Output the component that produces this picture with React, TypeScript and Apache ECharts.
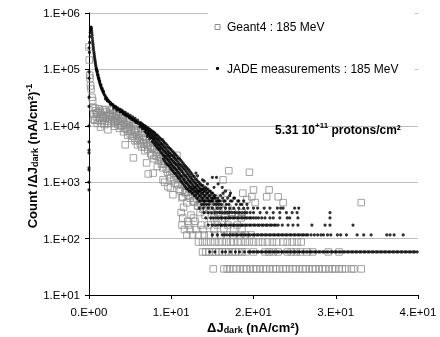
import React, { useEffect, useRef } from "react";
import * as echarts from "echarts";

const FONT = "'Liberation Sans', Arial, Helvetica, sans-serif";

const xTickLabels = ["0.E+00", "1.E+01", "2.E+01", "3.E+01", "4.E+01"];
const yTickLabels = ["1.E+01", "1.E+02", "1.E+03", "1.E+04", "1.E+05", "1.E+06"];

const seriesNames = ["Geant4 : 185 MeV", "JADE measurements : 185 MeV"];
const fluenceNote = "5.31 10+11 protons/cm²";

// ---------- JADE measurements (black dots) ----------
const jadeAxisColumn = [2.4e5, 9.0e4, 7.0e4, 3.2e4, 2.2e4, 1.0e4, 5.2e3, 3.7e3, 3.3e3, 1.8e3, 1.65e3, 1.0e3, 7.3e2];

const jadeCurve: number[][] = [
  [0.05, 2.0e5], [0.08, 3.0e5], [0.11, 3.8e5], [0.14, 4.5e5], [0.17, 5.0e5], [0.2, 5.4e5], [0.23, 5.6e5],
  [0.26, 5.5e5], [0.29, 5.2e5], [0.32, 4.8e5], [0.35, 4.4e5], [0.38, 4.0e5], [0.41, 3.6e5], [0.44, 3.25e5],
  [0.47, 2.95e5], [0.5, 2.7e5], [0.53, 2.45e5], [0.56, 2.25e5], [0.59, 2.05e5], [0.62, 1.9e5], [0.65, 1.75e5],
  [0.68, 1.62e5], [0.71, 1.5e5], [0.74, 1.4e5], [0.77, 1.3e5], [0.8, 1.22e5], [0.84, 1.13e5], [0.88, 1.05e5],
  [0.92, 9.8e4], [0.96, 9.2e4], [1.0, 8.6e4], [1.05, 8.0e4], [1.1, 7.5e4], [1.15, 7.0e4], [1.2, 6.6e4],
  [1.25, 6.2e4], [1.3, 5.8e4], [1.36, 5.45e4], [1.42, 5.1e4], [1.48, 4.8e4], [1.55, 4.5e4], [1.62, 4.25e4],
  [1.7, 4.0e4], [1.78, 3.78e4], [1.86, 3.58e4], [1.95, 3.4e4], [2.05, 3.22e4], [2.15, 3.06e4], [2.25, 2.92e4],
  [2.35, 2.8e4], [2.45, 2.69e4], [2.55, 2.59e4], [2.7, 2.46e4], [2.85, 2.35e4], [3.0, 2.25e4], [3.15, 2.16e4],
  [3.3, 2.08e4], [3.45, 2.0e4], [3.6, 1.93e4], [3.75, 1.87e4], [3.9, 1.81e4], [4.05, 1.75e4], [4.2, 1.69e4],
  [4.35, 1.63e4], [4.5, 1.58e4], [4.65, 1.53e4], [4.8, 1.48e4], [4.95, 1.43e4], [5.1, 1.38e4], [5.25, 1.33e4],
  [5.4, 1.29e4], [5.55, 1.24e4], [5.7, 1.2e4], [5.85, 1.15e4], [6.0, 1.1e4],
];

const jadeCurveEdge: number[][] = [
  [0.9, 1.0e5], [1.0, 9.3e4], [1.1, 8.0e4], [1.2, 7.0e4], [1.3, 6.2e4], [1.45, 5.3e4], [1.6, 4.6e4], [1.75, 4.1e4],
  [2.0, 3.0e4], [2.3, 2.75e4], [2.6, 2.55e4], [2.9, 2.38e4], [3.2, 2.22e4], [3.5, 2.07e4], [3.8, 1.95e4],
  [4.1, 1.84e4], [4.4, 1.73e4], [4.7, 1.62e4], [5.0, 1.53e4], [5.3, 1.44e4], [5.6, 1.35e4], [5.9, 1.26e4],
  [2.2, 2.8e4], [2.6, 2.4e4], [3.0, 2.05e4], [3.4, 1.9e4], [3.8, 1.77e4], [4.2, 1.62e4], [4.6, 1.5e4],
  [5.0, 1.39e4], [5.4, 1.27e4], [5.8, 1.16e4], [4.4, 1.56e4], [4.9, 1.4e4], [5.2, 1.3e4], [5.7, 1.14e4],
];

const jadeBand: number[][] = [
  [6.2, 1.05e4], [6.2, 9.6e3], [6.2, 1.15e4],
  [6.5, 9.7e3], [6.5, 8.8e3], [6.5, 1.07e4],
  [6.8, 9.0e3], [6.8, 8.0e3], [6.8, 1.0e4],
  [7.1, 8.3e3], [7.1, 7.3e3], [7.1, 9.3e3], [7.1, 6.5e3],
  [7.4, 7.6e3], [7.4, 6.7e3], [7.4, 8.6e3], [7.4, 5.9e3],
  [7.7, 7.0e3], [7.7, 6.1e3], [7.7, 8.0e3], [7.7, 5.3e3],
  [8.0, 6.4e3], [8.0, 5.5e3], [8.0, 7.4e3], [8.0, 4.7e3],
  [8.3, 5.8e3], [8.3, 4.9e3], [8.3, 6.8e3], [8.3, 4.1e3],
  [8.6, 5.2e3], [8.6, 4.4e3], [8.6, 6.1e3], [8.6, 3.7e3],
  [8.9, 4.7e3], [8.9, 3.9e3], [8.9, 5.6e3], [8.9, 3.2e3],
  [9.2, 4.2e3], [9.2, 3.5e3], [9.2, 5.0e3], [9.2, 2.9e3], [9.2, 2.4e3],
  [9.5, 3.7e3], [9.5, 3.1e3], [9.5, 4.5e3], [9.5, 2.6e3], [9.5, 2.1e3],
  [9.8, 3.3e3], [9.8, 2.8e3], [9.8, 4.0e3], [9.8, 2.3e3], [9.8, 1.9e3],
  [10.1, 3.0e3], [10.1, 2.5e3], [10.1, 3.6e3], [10.1, 2.0e3], [10.1, 1.65e3],
  [10.4, 2.7e3], [10.4, 2.2e3], [10.4, 3.2e3], [10.4, 1.8e3], [10.4, 1.45e3],
  [10.7, 2.4e3], [10.7, 2.0e3], [10.7, 2.9e3], [10.7, 1.6e3], [10.7, 1.3e3],
  [11.0, 2.1e3], [11.0, 1.75e3], [11.0, 2.6e3], [11.0, 1.4e3], [11.0, 1.15e3],
  [11.3, 1.9e3], [11.3, 1.55e3], [11.3, 2.3e3], [11.3, 1.25e3], [11.3, 1.0e3],
  [11.6, 1.7e3], [11.6, 1.35e3], [11.6, 2.0e3], [11.6, 1.1e3], [11.6, 8.7e2],
  [11.9, 1.5e3], [11.9, 1.2e3], [11.9, 1.8e3], [11.9, 9.6e2], [11.9, 7.54e2],
  [12.2, 1.3e3], [12.2, 1.05e3], [12.2, 1.6e3], [12.2, 8.4e2], [12.2, 6.96e2],
  [12.5, 1.15e3], [12.5, 9.3e2], [12.5, 1.4e3], [12.5, 7.54e2], [12.5, 6.38e2],
  [12.8, 1.0e3], [12.8, 8.1e2], [12.8, 1.25e3], [12.8, 6.96e2], [12.8, 5.8e2],
  [13.1, 9.0e2], [13.1, 7.54e2], [13.1, 1.1e3], [13.1, 6.38e2], [13.1, 5.22e2],
  [13.4, 8.1e2], [13.4, 6.96e2], [13.4, 9.8e2], [13.4, 5.8e2], [13.4, 4.64e2],
  [13.7, 7.54e2], [13.7, 6.38e2], [13.7, 8.7e2], [13.7, 5.22e2], [13.7, 4.06e2],
  [14.0, 6.96e2], [14.0, 5.8e2], [14.0, 7.8e2], [14.0, 4.64e2], [14.0, 4.06e2],
  [14.3, 6.38e2], [14.3, 5.22e2], [14.3, 7.54e2], [14.3, 4.06e2],
  [14.6, 5.8e2], [14.6, 4.64e2], [14.6, 6.96e2], [14.6, 4.06e2],
  [14.9, 5.22e2], [14.9, 4.64e2], [14.9, 6.38e2],
  [15.2, 5.22e2], [15.2, 4.06e2], [15.2, 5.8e2],
  [15.5, 4.64e2], [15.5, 4.06e2], [15.8, 4.64e2], [15.8, 4.06e2],
  [16.1, 4.06e2], [16.4, 4.64e2], [16.7, 4.06e2], [17.0, 4.06e2], [17.4, 4.64e2], [17.9, 4.06e2],
  [18.4, 4.06e2], [19.2, 4.06e2],
  [14.0, 1.05e3], [15.0, 1.22e3], [15.5, 1.22e3], [15.7, 9.3e2], [16.2, 8.1e2], [16.6, 6.96e2],
  [17.1, 5.8e2], [17.6, 5.22e2], [18.2, 4.64e2], [13.2, 1.3e3], [16.0, 5.8e2], [18.8, 4.64e2], [17.2, 6.38e2],
];

const jadeBandExtra: number[][] = [
  [6.35, 1.0e4], [6.35, 1.1e4], [6.65, 9.2e3], [6.65, 1.02e4], [6.95, 8.6e3], [6.95, 7.6e3], [6.95, 9.6e3],
  [7.25, 7.9e3], [7.25, 7.0e3], [7.25, 8.9e3], [7.55, 7.3e3], [7.55, 6.3e3], [7.55, 8.3e3], [7.85, 6.7e3],
  [7.85, 5.8e3], [7.85, 7.7e3], [7.85, 5.0e3], [8.15, 6.1e3], [8.15, 5.2e3], [8.15, 7.0e3], [8.15, 4.4e3],
  [8.45, 5.5e3], [8.45, 4.6e3], [8.45, 6.4e3], [8.45, 3.9e3], [8.75, 4.9e3], [8.75, 4.1e3], [8.75, 5.8e3],
  [8.75, 3.4e3], [9.05, 4.4e3], [9.05, 3.7e3], [9.05, 5.3e3], [9.05, 3.0e3], [9.05, 2.6e3], [9.35, 4.0e3],
  [9.35, 3.3e3], [9.35, 4.8e3], [9.35, 2.75e3], [9.35, 2.2e3], [9.65, 3.5e3], [9.65, 2.95e3], [9.65, 4.2e3],
  [9.65, 2.45e3], [9.65, 2.0e3], [9.95, 3.15e3], [9.95, 2.6e3], [9.95, 3.8e3], [9.95, 2.15e3], [9.95, 1.75e3],
  [10.25, 2.85e3], [10.25, 2.35e3], [10.25, 3.4e3], [10.25, 1.9e3], [10.25, 1.55e3], [10.55, 2.55e3],
  [10.55, 2.1e3], [10.55, 3.05e3], [10.55, 1.7e3], [10.55, 1.4e3], [10.85, 2.25e3], [10.85, 1.85e3],
  [10.85, 2.7e3], [10.85, 1.5e3], [10.85, 1.2e3], [11.15, 2.0e3], [11.15, 1.65e3], [11.15, 2.45e3],
  [11.15, 1.3e3], [11.15, 1.05e3], [11.45, 1.8e3], [11.45, 1.45e3], [11.45, 2.15e3], [11.45, 1.15e3],
  [11.45, 9.3e2], [11.75, 1.6e3], [11.75, 1.28e3], [11.75, 1.9e3], [11.75, 1.0e3], [11.75, 8.12e2],
  [12.05, 1.4e3], [12.05, 1.12e3], [12.05, 1.7e3], [12.05, 9.0e2], [12.05, 7.54e2], [12.35, 1.22e3],
  [12.35, 9.9e2], [12.35, 1.5e3], [12.35, 8.12e2], [12.35, 6.96e2], [12.65, 1.08e3], [12.65, 8.7e2],
  [12.65, 1.3e3], [12.65, 7.54e2], [12.65, 6.38e2], [12.95, 9.5e2], [12.95, 8.12e2], [12.95, 1.15e3],
  [12.95, 6.96e2], [12.95, 5.8e2], [13.25, 8.7e2], [13.25, 6.96e2], [13.25, 1.02e3], [13.25, 6.38e2],
  [13.25, 5.22e2], [13.55, 7.54e2], [13.55, 6.96e2], [13.55, 9.2e2], [13.55, 5.8e2], [13.55, 4.64e2],
  [13.85, 7.54e2], [13.85, 6.38e2], [13.85, 8.7e2], [13.85, 5.22e2], [13.85, 4.64e2], [14.15, 6.96e2],
  [14.15, 5.8e2], [14.15, 8.12e2], [14.15, 4.64e2], [14.45, 6.38e2], [14.45, 5.22e2], [14.45, 7.54e2],
  [14.45, 4.64e2], [14.75, 5.8e2], [14.75, 4.64e2], [14.75, 6.96e2], [15.05, 5.22e2], [15.05, 4.64e2],
  [15.05, 6.38e2], [15.35, 5.22e2], [15.35, 5.8e2], [15.65, 4.64e2], [15.65, 5.22e2], [15.95, 4.64e2],
  [16.25, 5.22e2], [16.55, 4.64e2], [16.85, 5.22e2], [17.2, 4.64e2], [17.7, 5.22e2], [18.1, 4.64e2],
  [18.6, 4.06e2], [13.0, 1.45e3], [13.8, 1.1e3], [14.4, 9.3e2], [15.2, 8.12e2], [16.3, 6.38e2],
];

const jadeRowValues = [58, 116, 174, 232, 290, 348];
const jadeRowPositions: number[][] = [
  [14.7, 15.3, 16.2, 16.6, 17.2, 17.8, 18.3, 18.9, 19.4, 19.6, 19.9, 20.1, 20.4, 20.6, 20.9, 21.1, 21.4, 21.6,
    21.9, 22.1, 22.4, 22.6, 22.9, 23.1, 23.4, 23.6, 23.9, 24.1, 24.4, 24.6, 24.9, 25.1, 25.4, 25.6, 25.9, 26.1,
    26.4, 26.6, 26.9, 27.1, 27.4, 27.6, 27.9, 28.1, 28.4, 28.6, 28.9, 29.1, 29.4, 29.6, 29.9, 30.1, 30.4, 30.6,
    30.9, 31.1, 31.4, 31.6, 31.9, 32.1, 32.4, 32.6, 32.9, 33.1, 33.4, 33.6, 33.9, 34.1, 34.4, 34.6, 34.9, 35.1,
    35.4, 35.6, 35.9, 36.1, 36.4, 36.6, 36.9, 37.1, 37.4, 37.6, 37.9, 38.1, 38.4, 38.6, 38.9, 39.1, 39.4, 39.6, 39.9],
  [15.0, 15.6, 16.2, 16.5, 16.8, 17.1, 17.4, 17.6, 17.9, 18.1, 18.4, 18.6, 18.9, 19.1, 19.4, 19.6, 19.9, 20.1,
    20.4, 20.6, 20.9, 21.1, 21.4, 21.6, 21.9, 22.1, 22.4, 22.6, 22.9, 23.1, 23.4, 23.6, 23.9, 24.1, 24.4, 24.6,
    24.9, 25.1, 25.4, 25.6, 25.9, 26.1, 26.4, 26.6, 27.0, 27.4, 27.8, 28.2, 28.5, 29.0, 29.4, 30.2, 30.6, 31.3,
    32.6, 33.4, 34.3, 36.2, 36.6, 37.1, 38.2],
  [14.5, 15.0, 15.4, 15.7, 16.0, 16.2, 16.5, 16.7, 17.0, 17.2, 17.5, 17.7, 18.0, 18.2, 18.5, 18.7, 19.0, 19.2,
    19.5, 19.7, 20.0, 20.2, 20.5, 20.7, 21.0, 21.2, 21.5, 21.7, 22.0, 22.2, 22.5, 22.7, 23.0, 23.5, 24.2, 24.8,
    25.4, 27.1, 28.7, 29.3, 32.1],
  [14.2, 14.8, 15.1, 15.4, 15.7, 16.0, 16.2, 16.5, 16.7, 17.0, 17.2, 17.5, 17.7, 18.0, 18.2, 18.5, 18.7, 19.0,
    19.2, 19.5, 19.7, 20.0, 20.3, 20.6, 21.0, 21.4, 22.0, 22.4, 23.2, 24.1, 24.4, 25.4, 29.3],
  [14.0, 14.5, 14.9, 15.3, 15.6, 15.9, 16.2, 16.5, 16.8, 17.1, 17.4, 17.7, 18.0, 18.3, 18.6, 18.9, 19.2, 19.6,
    20.0, 20.8, 21.6, 22.4, 23.2, 24.0, 24.7, 25.3, 29.3],
  [13.4, 13.9, 14.5, 15.0, 15.6, 16.0, 16.6, 17.1, 17.6, 18.2, 18.8, 19.3, 20.0, 20.5, 21.3, 22.0, 22.9, 23.3,
    23.6, 25.0, 25.5],
];

// ---------- Geant4 simulation (open grey squares) ----------
const geantHead: number[][] = [
  [0.0, 2.5e5], [0.03, 1.47e5], [0.08, 7.9e4], [0.12, 7.0e4], [0.18, 5.1e4], [0.25, 4.5e4], [0.35, 3.2e4], [0.45, 2.8e4],
];

const geantCloud: number[][] = [
  [0.5, 2.1e4], [0.6, 1.6e4], [0.7, 1.25e4], [0.8, 1.85e4], [0.9, 1.45e4], [1.0, 1.1e4], [1.1, 1.7e4], [1.2, 2.0e4],
  [1.3, 1.35e4], [1.4, 9.5e3], [1.5, 1.6e4], [1.6, 1.25e4], [1.7, 1.9e4], [1.8, 1.5e4], [1.9, 1.05e4], [2.0, 1.35e4],
  [2.1, 1.75e4], [2.2, 1.2e4], [2.3, 8.5e3], [2.4, 1.55e4], [2.5, 1.3e4], [2.6, 1.9e4], [2.7, 1.1e4], [2.8, 1.45e4],
  [2.9, 1.65e4], [3.0, 1.15e4], [3.1, 9.8e3], [3.2, 1.4e4], [3.3, 1.75e4], [3.4, 1.25e4], [3.5, 1.05e4], [3.6, 1.5e4],
  [3.7, 9.0e3], [3.8, 1.2e4], [3.9, 1.4e4], [4.0, 1.0e4], [4.1, 1.55e4], [4.2, 7.8e3], [4.3, 1.1e4], [4.4, 4.6e3],
  [4.5, 1.25e4], [4.6, 8.6e3], [4.7, 6.8e3], [4.8, 1.15e4], [4.9, 9.5e3], [5.0, 7.2e3], [5.1, 1.0e4], [5.2, 6.0e3],
  [5.4, 2.7e3], [5.5, 8.8e3], [5.6, 5.4e3], [5.7, 1.05e4], [5.8, 7.0e3], [5.9, 4.6e3], [6.0, 8.0e3], [6.1, 5.8e3],
  [6.3, 6.8e3], [6.4, 4.2e3], [6.5, 9.0e3], [6.6, 5.0e3], [6.8, 3.6e3], [6.9, 6.2e3], [7.0, 2.2e3], [7.1, 4.5e3],
  [7.2, 1.4e3], [7.3, 5.5e3], [7.5, 3.2e3], [7.6, 7.0e3], [7.7, 4.0e3], [7.8, 1.45e3], [7.9, 2.6e3], [8.0, 5.0e3],
  [8.2, 3.4e3], [8.3, 1.9e3], [8.4, 4.4e3], [8.6, 2.8e3], [8.7, 5.2e3], [8.8, 2.1e3], [8.9, 3.6e3], [9.0, 1.1e3],
  [9.1, 2.5e3], [9.2, 1.0e3], [9.3, 3.0e3], [9.4, 1.7e3], [9.6, 8.3e2], [9.7, 2.2e3], [9.8, 1.35e3], [9.9, 7.9e2],
  [10.0, 2.6e3], [10.1, 1.6e3], [10.2, 6.0e2], [10.3, 1.1e3], [10.5, 1.9e3], [10.6, 1.3e3], [10.7, 3.0e3],
  [10.8, 9.0e2], [11.0, 1.5e3], [11.1, 7.0e2], [11.2, 1.1e3], [11.3, 5.3e2], [11.4, 5.5e2], [11.5, 3.6e2],
  [11.6, 9.0e2], [11.8, 6.6e2], [11.9, 4.3e2], [12.0, 1.2e3], [12.1, 7.8e2], [12.3, 5.2e2], [12.5, 9.0e2],
  [12.6, 6.1e2], [12.8, 4.4e2], [13.0, 7.0e2], [13.2, 3.8e2], [13.5, 4.3e2], [13.6, 5.5e2], [13.8, 3.3e2],
  [14.0, 6.1e2], [14.3, 3.2e2], [14.6, 4.6e2], [15.0, 3.77e2], [15.4, 5.2e2], [15.8, 3.48e2],
];

const geantCloudExtra: number[][] = [
  [0.55, 1.3e4], [0.75, 2.05e4], [0.95, 1.7e4], [1.15, 1.25e4], [1.35, 1.8e4], [1.55, 1.1e4], [1.75, 1.4e4],
  [1.95, 1.95e4], [2.15, 1.5e4], [2.35, 1.1e4], [2.55, 1.65e4], [2.75, 1.3e4], [2.95, 1.95e4], [3.15, 1.2e4],
  [3.35, 1.5e4], [3.65, 1.75e4], [3.85, 1.0e4], [4.15, 1.35e4],
  [3.05, 1.6e4], [3.55, 1.2e4], [4.05, 1.3e4], [4.35, 9.0e3], [4.55, 1.05e4], [4.75, 8.0e3], [4.95, 1.2e4],
  [5.15, 8.2e3], [5.35, 6.5e3], [5.45, 1.1e4], [5.65, 7.6e3], [5.85, 5.5e3], [6.05, 6.5e3], [6.25, 4.8e3],
  [6.45, 7.4e3], [6.65, 5.8e3], [6.75, 4.2e3], [6.95, 5.0e3], [7.15, 3.8e3], [7.35, 6.0e3], [7.45, 4.4e3],
  [7.65, 3.0e3], [7.75, 5.2e3], [7.95, 3.8e3], [8.15, 2.9e3], [8.25, 4.2e3], [8.45, 2.4e3], [8.55, 3.6e3],
  [8.75, 2.6e3], [8.95, 1.8e3], [9.05, 3.0e3], [9.25, 2.1e3], [9.45, 2.6e3], [9.55, 1.5e3], [9.75, 1.8e3],
  [9.95, 1.2e3], [10.15, 2.0e3], [10.35, 1.45e3], [10.45, 9.5e2], [10.65, 1.7e3], [10.85, 1.15e3],
  [10.95, 7.5e2], [11.15, 1.3e3], [11.35, 9.0e2], [11.55, 1.2e3], [11.65, 6.5e2], [11.85, 8.5e2],
  [12.05, 5.8e2], [12.25, 9.5e2], [12.45, 6.7e2], [12.65, 4.64e2], [12.85, 7.5e2], [13.05, 5.22e2],
  [13.25, 3.77e2], [13.45, 6.38e2], [13.65, 4.64e2], [13.95, 3.48e2], [14.15, 5.22e2], [14.45, 4.06e2],
  [14.75, 3.19e2], [15.05, 4.64e2], [15.35, 3.77e2], [15.65, 2.9e2], [15.95, 4.06e2], [16.25, 3.19e2],
];

const geantUpper: number[][] = [
  [16.3, 1.1e3], [16.8, 6.4e2], [17.0, 1.6e3], [18.7, 6.4e2], [19.2, 4.93e2], [16.9, 3.48e2], [17.4, 2.9e2],
  [19.5, 1.5e3], [20.0, 7.3e2], [19.8, 5.51e2], [21.6, 5.51e2], [21.9, 7.3e2], [23.0, 5.51e2], [23.6, 4.35e2],
  [20.2, 4.35e2], [18.6, 2.9e2], [33.1, 4.35e2], [16.5, 2.32e2],
];

const geantRowValues = [29, 58, 87, 116, 145, 174, 203, 232, 261, 290];
const geantRowPositions: number[][] = [
  [15.1, 16.4, 16.8, 17.1, 17.5, 17.9, 18.4, 18.8, 19.1, 19.6, 20.0, 20.3, 20.8, 21.2, 21.5, 22.0, 22.4, 22.7,
    23.2, 23.6, 23.9, 24.4, 24.8, 25.1, 25.6, 26.0, 26.3, 26.8, 27.2, 27.5, 28.0, 28.4, 28.7, 29.2, 29.6, 29.9,
    30.4, 30.8, 31.2, 31.9, 32.2, 33.1],
  [13.8, 14.2, 14.6, 15.0, 15.4, 15.8, 16.2, 16.6, 17.0, 17.4, 17.8, 18.2, 18.6, 19.1, 20.0, 21.4, 21.9, 22.4,
    23.0, 24.1, 24.6, 25.2, 25.7, 26.5, 27.2, 29.1, 30.4],
  [13.3, 13.8, 14.3, 14.8, 15.3, 15.8, 16.2, 16.7, 17.2, 17.6, 18.1, 18.5, 19.0, 19.5, 20.0, 20.6, 21.1, 21.7,
    22.3, 22.8, 23.6, 24.1, 24.7, 25.3, 25.8],
  [11.9, 12.6, 13.3, 14.0, 14.6, 15.3, 16.0, 16.8, 17.5, 18.4, 19.0, 19.7],
  [11.6, 12.3, 13.0, 13.9, 15.2, 16.4, 17.6, 18.6],
  [11.3, 12.1, 13.6, 14.5, 15.6, 16.9, 18.0],
  [12.0, 12.9, 14.8, 16.2],
  [11.4, 12.7, 15.2, 18.5],
  [12.4, 14.1, 17.4],
  [11.2, 13.5, 17.4, 18.6],
];

const rowsToPoints = (levels: number[], rows: number[][]) =>
  rows.flatMap((xs, i) => xs.map((x) => [x, levels[i]]));

export default function App() {
  const ref = useRef<HTMLDivElement>(null);

  useEffect(() => {
    if (!ref.current) return;
    const chart = echarts.init(ref.current, null, { renderer: "svg" });

    const jadeData = [
      ...jadeAxisColumn.map((y) => [0, y]),
      ...jadeCurve,
      ...jadeCurveEdge,
      ...jadeBand,
      ...jadeBandExtra,
      ...rowsToPoints(jadeRowValues, jadeRowPositions),
    ];
    const geantData = [
      ...geantHead,
      ...geantCloud,
      ...geantCloudExtra,
      ...geantUpper,
      ...rowsToPoints(geantRowValues, geantRowPositions),
    ];

    const titleRich = {
      b: { fontSize: 13, fontWeight: "bold", fontFamily: FONT, fill: "#000", lineHeight: 15 },
      sub: { fontSize: 9, fontWeight: "bold", fontFamily: FONT, fill: "#000", verticalAlign: "bottom", lineHeight: 9 },
      sup: { fontSize: 9, fontWeight: "bold", fontFamily: FONT, fill: "#000", verticalAlign: "top", lineHeight: 9 },
    };

    chart.setOption({
      animation: false,
      textStyle: { fontFamily: FONT },
      grid: { left: 89, right: 22, top: 13, bottom: 42, containLabel: false },
      xAxis: {
        type: "value",
        min: 0,
        max: 40,
        interval: 10,
        axisLine: { onZero: false, lineStyle: { color: "#000", width: 1 } },
        axisTick: { show: true, length: 4, inside: false, lineStyle: { color: "#000" } },
        axisLabel: {
          formatter: (v: number) => xTickLabels[Math.round(v / 10)] ?? "",
          fontSize: 11.5,
          color: "#000",
          fontFamily: FONT,
          margin: 11,
        },
        splitLine: { show: false },
      },
      yAxis: {
        type: "log",
        logBase: 10,
        min: 10,
        max: 1e6,
        axisLine: { show: true, lineStyle: { color: "#000", width: 1 } },
        axisTick: { show: true, length: 4, inside: false, lineStyle: { color: "#000" } },
        axisLabel: {
          formatter: (v: number) => yTickLabels[Math.round(Math.log10(v)) - 1] ?? "",
          fontSize: 11.5,
          color: "#000",
          fontFamily: FONT,
          margin: 9,
        },
        splitLine: { show: true, lineStyle: { color: "#bdbdbd", width: 1 } },
        minorTick: { show: false },
      },
      series: [
        {
          name: seriesNames[0],
          type: "scatter",
          data: geantData,
          symbol: "rect",
          symbolSize: 6.5,
          itemStyle: { color: "transparent", borderColor: "#8c8c8c", borderWidth: 1 },
          z: 2,
        },
        {
          name: seriesNames[1],
          type: "scatter",
          data: jadeData,
          symbol: "circle",
          symbolSize: 3.2,
          itemStyle: { color: "#000" },
          z: 3,
        },
      ],
      graphic: [
        { type: "rect", z: 100, shape: { x: 208, y: 5, width: 207, height: 78 }, style: { fill: "#fff" } },
        {
          type: "rect",
          z: 101,
          shape: { x: 215, y: 24.5, width: 5, height: 5 },
          style: { fill: "#fff", stroke: "#8c8c8c", lineWidth: 1 },
        },
        {
          type: "text",
          z: 101,
          x: 227,
          y: 27,
          style: { text: seriesNames[0], fontSize: 12, fontFamily: FONT, fill: "#000", verticalAlign: "middle" },
        },
        { type: "circle", z: 101, shape: { cx: 217.5, cy: 68.5, r: 1.6 }, style: { fill: "#000" } },
        {
          type: "text",
          z: 101,
          x: 227,
          y: 68.5,
          style: { text: seriesNames[1], fontSize: 12, fontFamily: FONT, fill: "#000", verticalAlign: "middle" },
        },
        {
          type: "text",
          z: 101,
          x: 275,
          y: 130,
          style: {
            text: "{b|5.31 10}{sup|+11}{b| protons/cm²}",
            verticalAlign: "middle",
            rich: {
              b: { fontSize: 12, fontWeight: "bold", fontFamily: FONT, fill: "#000", lineHeight: 17 },
              sup: { fontSize: 8, fontWeight: "bold", fontFamily: FONT, fill: "#000", verticalAlign: "top", lineHeight: 9 },
            },
          },
          info: fluenceNote,
        },
        {
          type: "text",
          z: 101,
          x: 32,
          y: 156,
          rotation: Math.PI / 2,
          style: {
            text: "{b|Count /ΔJ}{sub|dark}{b| (nA/cm²)}{sup|-1}",
            align: "center",
            verticalAlign: "middle",
            rich: titleRich,
          },
        },
        {
          type: "text",
          z: 101,
          x: 253,
          y: 327,
          style: {
            text: "{b|ΔJ}{sub|dark}{b| (nA/cm²)}",
            align: "center",
            verticalAlign: "middle",
            rich: titleRich,
          },
        },
      ],
    });

    return () => chart.dispose();
  }, []);

  return <div ref={ref} style={{ position: "fixed", left: 0, top: 0, width: 440, height: 337 }} />;
}
